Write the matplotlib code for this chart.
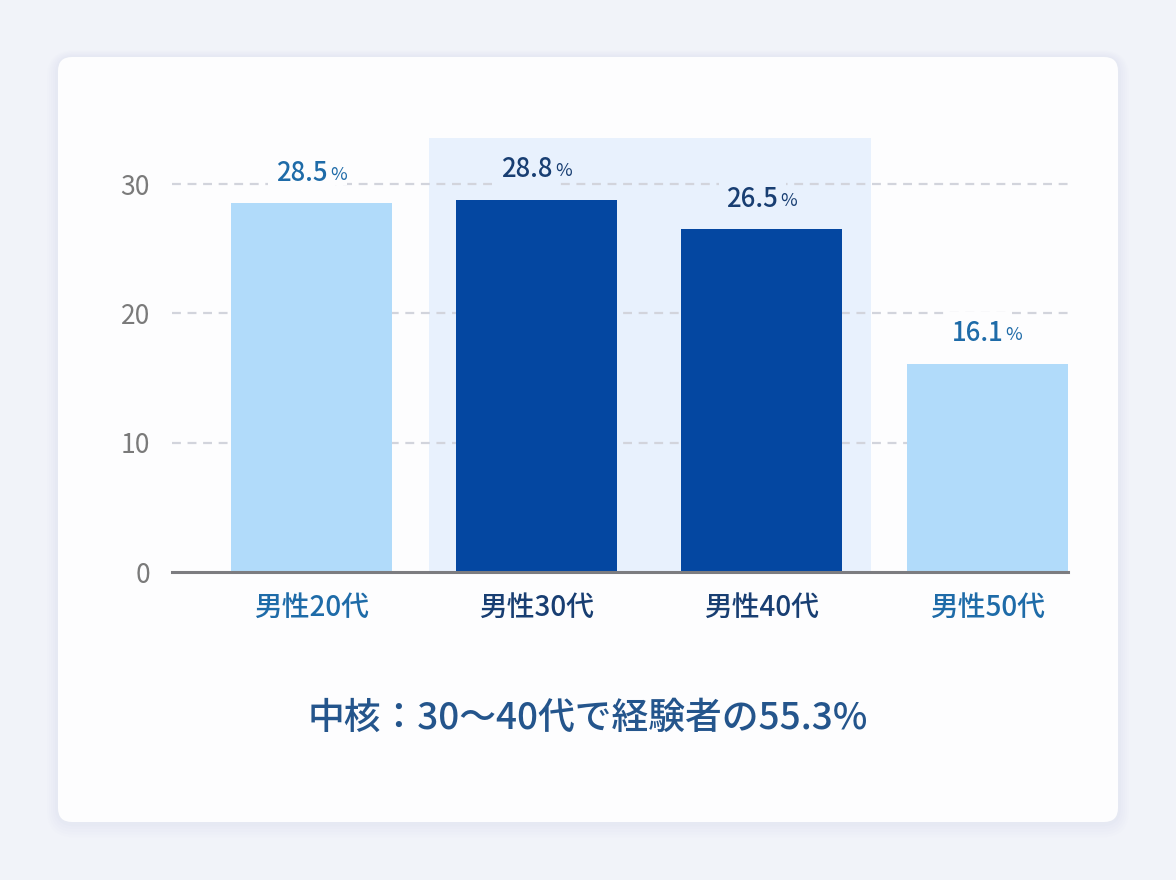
import matplotlib
matplotlib.use("Agg")
import matplotlib.pyplot as plt
from matplotlib.patches import FancyBboxPatch, Rectangle

plt.rcParams["font.family"] = ["Noto Sans CJK JP", "DejaVu Sans"]

# ---- data ---------------------------------------------------------------
categories = ["男性20代", "男性30代", "男性40代", "男性50代"]
values = [28.5, 28.8, 26.5, 16.1]
highlighted = [False, True, True, False]
y_ticks = [0, 10, 20, 30]
summary = "中核：30〜40代で経験者の55.3%"

# ---- styles -------------------------------------------------------------
LIGHT_BAR = "#b1dbfa"
DARK_BAR = "#0447a1"
LIGHT_TXT = "#1e6ba8"
DARK_TXT = "#183e72"
BAND = "#e8f1fd"
PAGE_BG = "#f1f3f9"
CARD = "#fdfdfe"

fig = plt.figure(figsize=(11.76, 8.8), dpi=100)
fig.patch.set_facecolor(PAGE_BG)

# background axes in pixel units so the card corners stay round
bg = fig.add_axes([0, 0, 1, 1], zorder=0)
bg.set_xlim(0, 1176)
bg.set_ylim(880, 0)
bg.axis("off")
for i, a in enumerate([0.025, 0.03, 0.035, 0.04, 0.05]):
    grow = 22 - i * 4
    bg.add_patch(FancyBboxPatch(
        (58 - grow * 0.5, 57 - grow * 0.3), 1060 + grow, 765 + grow,
        boxstyle="round,pad=0,rounding_size=%d" % (16 + grow // 2),
        facecolor="#b9c6e0", edgecolor="none", alpha=a))
bg.add_patch(FancyBboxPatch(
    (58, 57), 1060, 765, boxstyle="round,pad=0,rounding_size=14",
    facecolor=CARD, edgecolor="none"))

# ---- chart --------------------------------------------------------------
ax = fig.add_axes([0.1463, 0.35, 0.762, 0.4996], zorder=1)
ax.set_facecolor("none")
x = list(range(len(categories)))
ax.set_xlim(-0.62, 3.36)
ax.set_ylim(0, 34)

# band behind the 30s/40s pair
ax.add_patch(Rectangle((0.52, 0), 1.964, 33.6, facecolor=BAND,
                       edgecolor="none", zorder=0))

for t in y_ticks[1:]:
    ax.axhline(t, color="#d2d4dc", lw=1.6, dashes=(4, 3), zorder=1)

colors = [DARK_BAR if h else LIGHT_BAR for h in highlighted]
ax.bar(x, values, width=0.715, color=colors, zorder=2)

# value labels: number plus a smaller % sign, on a patch that hides the grid
for xi, v, h in zip(x, values, highlighted):
    c = DARK_TXT if h else LIGHT_TXT
    box_c = BAND if h else CARD
    num = ax.annotate(f"{v:.1f}", (xi, v), xytext=(-7, 12),
                      textcoords="offset points", ha="center", va="bottom",
                      fontsize=18.5, fontweight="medium", color=c, zorder=4,
                      bbox=dict(boxstyle="square,pad=0.3", fc=box_c, ec="none"))
    ax.annotate("%", xy=(1, 0.1), xycoords=num, xytext=(1.5, 0),
                textcoords="offset points", ha="left", va="bottom",
                fontsize=13, color=c, zorder=5,
                bbox=dict(boxstyle="square,pad=0.05", fc=box_c, ec="none"))

ax.set_xticks(x)
ax.set_xticklabels(categories, fontsize=20, fontweight="medium")
for lab, h in zip(ax.get_xticklabels(), highlighted):
    lab.set_color(DARK_TXT if h else LIGHT_TXT)
ax.set_yticks(y_ticks)
ax.set_yticklabels([str(t) for t in y_ticks], fontsize=19, color="#7a7a7a")
ax.tick_params(axis="x", length=0, pad=15)
ax.tick_params(axis="y", length=0, pad=16)

for s in ["top", "right", "left"]:
    ax.spines[s].set_visible(False)
ax.spines["bottom"].set_color("#7c7c80")
ax.spines["bottom"].set_linewidth(2.2)
ax.spines["bottom"].set_zorder(4)

fig.text(0.5, 0.184, summary, ha="center", va="center",
         fontsize=26.5, fontweight="medium", color="#24558c")

fig.savefig("out.png", dpi=100, facecolor=fig.get_facecolor())
